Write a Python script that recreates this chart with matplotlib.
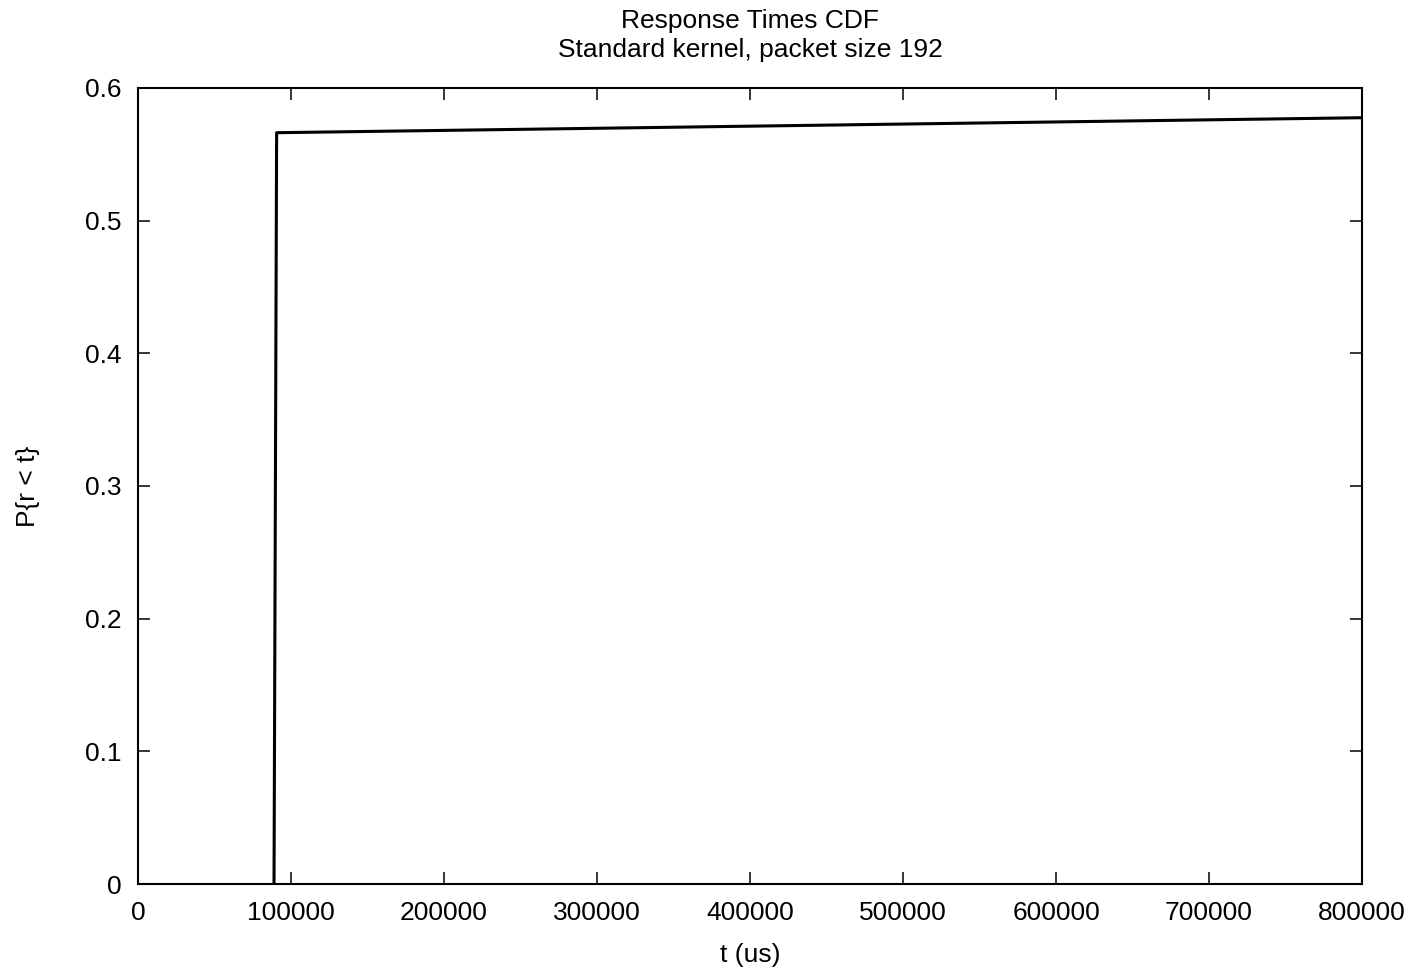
import matplotlib
matplotlib.use("Agg")
import matplotlib.pyplot as plt
from matplotlib.ticker import FuncFormatter

# ---------- DATA --------------
t_us = [88900, 90600, 800000]
p_cdf = [0.0, 0.5663, 0.5776]
x_ticks = [0, 100000, 200000, 300000, 400000, 500000, 600000, 700000, 800000]
y_ticks = [0, 0.1, 0.2, 0.3, 0.4, 0.5, 0.6]
# ------------------------------

plt.rcParams['font.family'] = ['Liberation Sans', 'DejaVu Sans']
plt.rcParams['font.size'] = 19

fig = plt.figure(figsize=(14.2, 9.68), dpi=100)
ax = fig.add_axes([138 / 1420, 84 / 968, 1224 / 1420, 796 / 968])

ax.plot(t_us, p_cdf, color='black', linewidth=2.2)

ax.set_xlim(0, 800000)
ax.set_ylim(0, 0.6)
ax.set_xticks(x_ticks)
ax.set_yticks(y_ticks)
ax.yaxis.set_major_formatter(FuncFormatter(lambda v, p: "0" if v == 0 else "%g" % v))
ax.tick_params(direction='in', length=8.5, width=1.1, top=True, right=True)
ax.tick_params(axis='x', pad=12)
ax.tick_params(axis='y', pad=12)
for s in ax.spines.values():
    s.set_linewidth(1.5)

ax.set_xlabel("t (us)", labelpad=13)
ax.set_ylabel("P{r < t}", labelpad=32)
ax.set_title("Response Times CDF\nStandard kernel, packet size 192", fontsize=19, pad=22, linespacing=1.3)

fig.savefig("out.png", dpi=100)
